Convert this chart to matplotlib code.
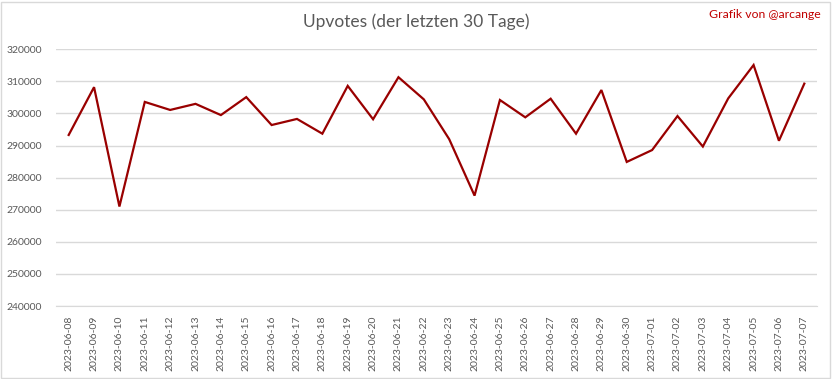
import matplotlib
matplotlib.use("Agg")
import matplotlib.pyplot as plt
from matplotlib.patches import Rectangle

dates = ["2023-06-08", "2023-06-09", "2023-06-10", "2023-06-11", "2023-06-12", "2023-06-13",
         "2023-06-14", "2023-06-15", "2023-06-16", "2023-06-17", "2023-06-18", "2023-06-19",
         "2023-06-20", "2023-06-21", "2023-06-22", "2023-06-23", "2023-06-24", "2023-06-25",
         "2023-06-26", "2023-06-27", "2023-06-28", "2023-06-29", "2023-06-30", "2023-07-01",
         "2023-07-02", "2023-07-03", "2023-07-04", "2023-07-05", "2023-07-06", "2023-07-07"]
upvotes = [293300, 308200, 271000, 303600, 301100, 303000,
           299500, 305100, 296400, 298300, 293700, 308600,
           298200, 311300, 304400, 292000, 274400, 304200,
           298800, 304600, 293700, 307300, 284900, 288600,
           299200, 289700, 304700, 315100, 291500, 309300]
yticks = list(range(240000, 320001, 10000))

plt.rcParams['font.family'] = ['Lato', 'DejaVu Sans']

fig = plt.figure(figsize=(8.32, 3.79), dpi=100)
ax = fig.add_axes([56/832, 1-306/379, (817-56)/832, (306-49.3)/379])

x = list(range(len(dates)))
ax.plot(x, upvotes, color='#990000', lw=1.6, solid_joinstyle='miter')
ax.set_xlim(-0.5, len(dates)-0.5)
ax.set_ylim(yticks[0], yticks[-1])
ax.set_yticks(yticks)
ax.set_yticklabels([str(v) for v in yticks])
ax.set_xticks(x)
ax.set_xticklabels(dates, rotation=90)
ax.tick_params(axis='both', length=0, labelsize=7.5, labelcolor='#595959')
ax.tick_params(axis='x', pad=7)
ax.tick_params(axis='y', pad=10)
ax.grid(axis='y', color='#d9d9d9', lw=1)
ax.set_axisbelow(True)
for s in ['top', 'right', 'left']:
    ax.spines[s].set_visible(False)
ax.spines['bottom'].set_color('#d9d9d9')

fig.text(416/832, 1-22/379, "Upvotes (der letzten 30 Tage)", ha='center', va='center',
         fontsize=12.5, color='#595959')
fig.text(821/832, 1-14/379, "Grafik von @arcange", ha='right', va='center',
         fontsize=8.8, color='#c00000')

fig.patches.append(Rectangle((1/832, 1/379), 829/832, 376/379, transform=fig.transFigure,
                             fill=False, edgecolor='#d9d9d9', lw=1))

fig.savefig("out.png", dpi=100, facecolor='white')
